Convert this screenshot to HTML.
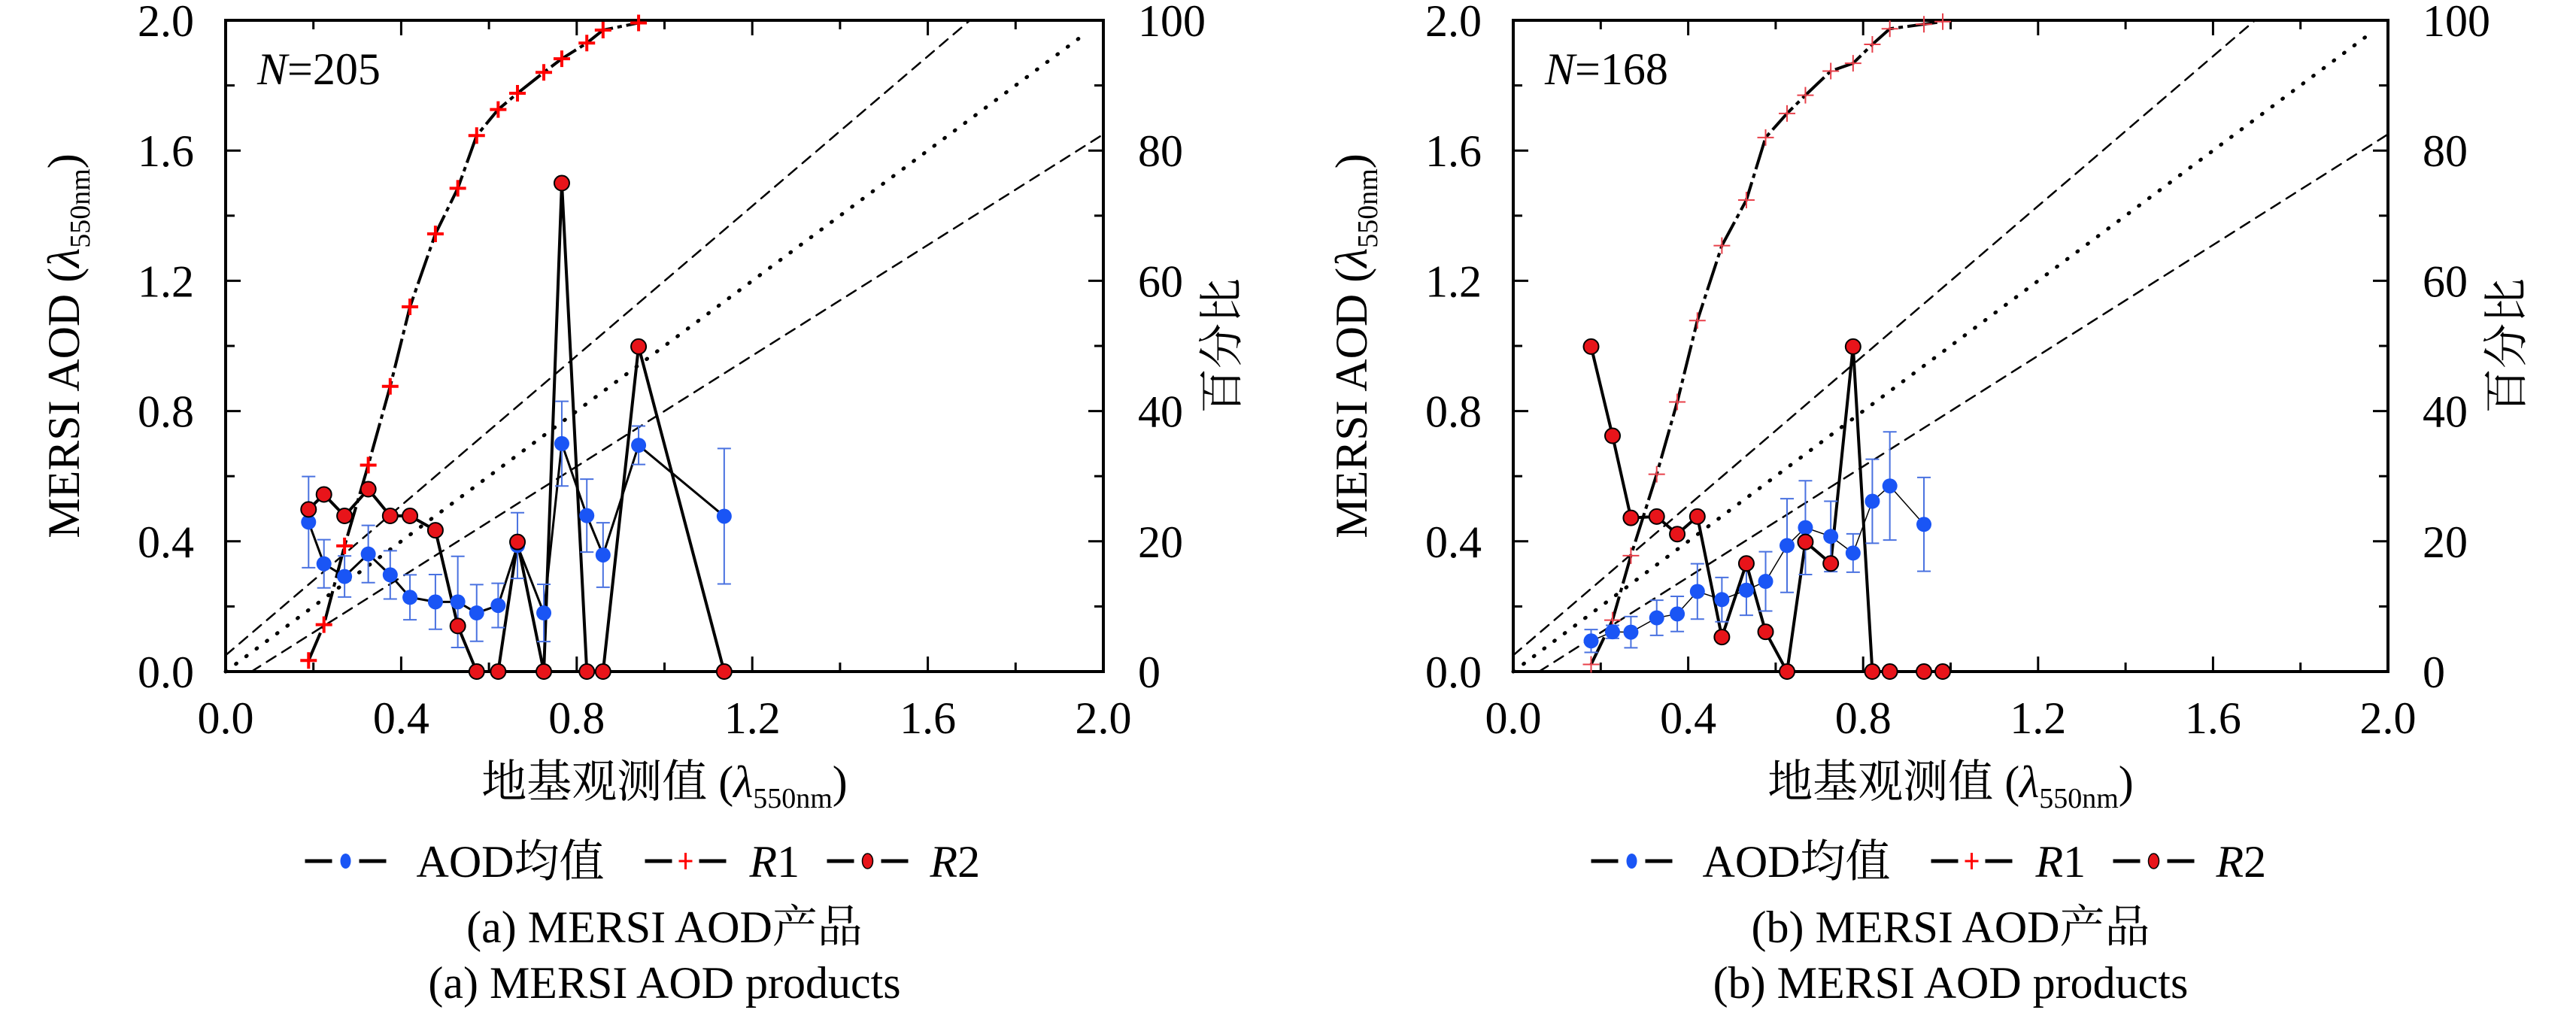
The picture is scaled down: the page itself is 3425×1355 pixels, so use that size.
<!DOCTYPE html>
<html><head><meta charset="utf-8"><style>
body{margin:0;background:#fff}
svg, svg text{font-family:"Liberation Serif","Times New Roman","Tinos","DejaVu Serif","Noto Serif CJK SC",serif}
</style></head><body>
<svg id="svg" width="3425" height="1350" xmlns="http://www.w3.org/2000/svg"></svg>
<script>
const xTicks=["0.0","0.4","0.8","1.2","1.6","2.0"];
const yTicks=["0.0","0.4","0.8","1.2","1.6","2.0"];
const pTicks=["0","20","40","60","80","100"];
// panel a
const aX=[0.189,0.224,0.271,0.325,0.375,0.420,0.478,0.529,0.572,0.621,0.665,0.725,0.766,0.823,0.860,0.941,1.136];
const aAOD=[0.459,0.331,0.292,0.361,0.297,0.228,0.214,0.214,0.180,0.203,0.387,0.180,0.700,0.479,0.358,0.695,0.477];
const aErr=[0.140,0.074,0.063,0.088,0.074,0.069,0.084,0.140,0.087,0.068,0.101,0.088,0.130,0.112,0.099,0.059,0.208];
const aR1=[1.7,7.2,19.3,31.7,43.8,56.0,67.2,74.2,82.3,86.3,88.8,92.0,94.1,96.5,98.5,99.6];
const aR2=[24.9,27.2,23.9,28.0,23.9,23.9,21.7,7.0,0,0,19.9,0,75.0,0,0,49.9,0];
// panel b
const bX=[0.178,0.227,0.269,0.328,0.375,0.421,0.477,0.533,0.577,0.626,0.668,0.726,0.777,0.821,0.861,0.939,0.982];
const bAOD=[0.094,0.122,0.121,0.165,0.177,0.246,0.221,0.250,0.277,0.387,0.442,0.415,0.364,0.523,0.570,0.452];
const bErr=[0.035,0.020,0.048,0.054,0.054,0.085,0.068,0.077,0.091,0.144,0.144,0.108,0.059,0.129,0.166,0.144];
const bR1=[1.1,7.9,17.8,30.3,41.4,53.9,65.4,72.4,82.0,85.7,88.5,92.2,93.4,96.3,98.7,99.4,99.8];
const bR2=[49.9,36.2,23.6,23.8,21.1,23.8,5.3,16.6,6.1,0,19.9,16.6,49.9,0,0,0,0];

const NS="http://www.w3.org/2000/svg";
const svg=document.getElementById('svg');
function mk(tag,attrs,parent,txt){const e=document.createElementNS(NS,tag);for(const k in attrs)e.setAttribute(k,attrs[k]);if(txt!==undefined)e.textContent=txt;(parent||svg).appendChild(e);return e;}

function panel(P){
  const g=mk('g',{});
  
  
  const L=P.L,R=P.R,T=27,B=893;
  const sx=v=>L+(R-L)*v/2, sy=v=>B-(B-T)*v/2, sp=v=>B-(B-T)*v/100;
  const lines=[[0,0,1.965,1.965,'1 16','ref-1to1-line',5],[0,0.05,1.696,2,'14 10','ref-upper-line',2.5],[0.0588,0,2,1.65,'14 10','ref-lower-line',2.5]];
  lines.forEach(l=>{const e=mk('line',{x1:sx(l[0]),y1:sy(l[1]),x2:sx(l[2]),y2:sy(l[3]),stroke:'#000','stroke-width':l[6],'stroke-dasharray':l[4],'stroke-linecap':'round'},g);
    });
  const fr=mk('rect',{x:L,y:T,width:R-L,height:B-T,fill:'none',stroke:'#000','stroke-width':4},g);
  
  for(let i=0;i<=10;i++){const len=i%2?12:20;const v=i*0.2;
    mk('line',{x1:sx(v),y1:B,x2:sx(v),y2:B-len,stroke:'#000','stroke-width':3},g);
    mk('line',{x1:sx(v),y1:T,x2:sx(v),y2:T+len,stroke:'#000','stroke-width':3},g);
    mk('line',{x1:L,y1:sy(v),x2:L+len,y2:sy(v),stroke:'#000','stroke-width':3},g);
    mk('line',{x1:R,y1:sy(v),x2:R-len,y2:sy(v),stroke:'#000','stroke-width':3},g);}
  xTicks.forEach((t,i)=>{const e=mk('text',{x:sx(i*0.4),y:975,'font-size':60,'text-anchor':'middle'},g,t);});
  yTicks.forEach((t,i)=>{const e=mk('text',{x:L-42,y:sy(i*0.4)+21,'font-size':60,'text-anchor':'end'},g,t);});
  pTicks.forEach((t,i)=>{const e=mk('text',{x:R+46,y:sp(i*20)+21,'font-size':60,'text-anchor':'start'},g,t);});
  const cx=(L+R)/2;
  let e=mk('text',{x:cx,y:1060,'font-size':60,'text-anchor':'middle'},g);
  
  e.innerHTML='地基观测值 (<tspan font-style="italic">λ</tspan><tspan font-size="38" dy="14">550nm</tspan><tspan dy="-14">)</tspan>';
  e=mk('text',{x:0,y:0,'font-size':60,'text-anchor':'middle',transform:`translate(${L-195},${(T+B)/2}) rotate(-90)`},g);
  
  e.innerHTML='MERSI AOD (<tspan font-style="italic">λ</tspan><tspan font-size="38" dy="14">550nm</tspan><tspan dy="-14">)</tspan>';
  e=mk('text',{x:0,y:0,'font-size':60,'text-anchor':'middle',transform:`translate(${R+178},${(T+B)/2}) rotate(-90)`},g,'百分比');
  
  e=mk('text',{x:L+42,y:112,'font-size':60},g);
  
  e.innerHTML='<tspan font-style="italic">N</tspan>='+P.n;
  const pts=(xs,ys,f)=>ys.map((v,i)=>sx(xs[i])+','+f(v)).join(' ');
  e=mk('polyline',{points:pts(P.x,P.aod,sy),fill:'none',stroke:'#000','stroke-width':P.thin?1.5:3},g);
  
  e=mk('polyline',{points:pts(P.x,P.r1,sp),fill:'none',stroke:'#000','stroke-width':4,'stroke-dasharray':'40 6 6 6'},g);
  
  e=mk('polyline',{points:pts(P.x,P.r2,sp),fill:'none',stroke:'#000','stroke-width':4},g);
  
  P.aod.forEach((v,i)=>{const x=sx(P.x[i]);const y1=sy(v+P.err[i]),y2=sy(v-P.err[i]);
    const eb=mk('path',{d:`M${x},${y1}V${y2}M${x-9},${y1}H${x+9}M${x-9},${y2}H${x+9}`,stroke:'#4a72e0','stroke-width':2,fill:'none'},g);
    });
  P.r1.forEach((v,i)=>{const x=sx(P.x[i]),y=sp(v);
    const c=mk('path',{d:`M${x-11},${y}H${x+11}M${x},${y-11}V${y+11}`,stroke:P.thin?'#e8404a':'#f00','stroke-width':P.thin?2:4},g);
    });
  P.aod.forEach((v,i)=>{const c=mk('ellipse',{cx:sx(P.x[i]),cy:sy(v),rx:10,ry:10,fill:'#1a55f5'},g);
    });
  P.r2.forEach((v,i)=>{const c=mk('ellipse',{cx:sx(P.x[i]),cy:sp(v),rx:10,ry:10,fill:'#e8141a',stroke:'#000','stroke-width':2},g);
    });
  const ly=1145, o=cx-883;
  const lg=mk('g',{},g);
  const seg=(x)=>{mk('line',{x1:x-54,y1:ly,x2:x-18,y2:ly,stroke:'#000','stroke-width':5},lg);mk('line',{x1:x+18,y1:ly,x2:x+54,y2:ly,stroke:'#000','stroke-width':5},lg);};
  seg(459+o);mk('ellipse',{cx:459+o,cy:ly,rx:7,ry:10,fill:'#1a55f5'},lg);
  e=mk('text',{x:553+o,y:ly+21,'font-size':60},lg,'AOD均值');
  seg(911+o);mk('path',{d:`M${911+o-9},${ly}H${911+o+9}M${911+o},${ly-11}V${ly+11}`,stroke:'#f00','stroke-width':3},lg);
  e=mk('text',{x:996+o,y:ly+21,'font-size':60},lg);e.innerHTML='<tspan font-style="italic">R</tspan>1';
  seg(1153+o);mk('ellipse',{cx:1153+o,cy:ly,rx:7,ry:10,fill:'#e8141a',stroke:'#000','stroke-width':1.5},lg);
  e=mk('text',{x:1236+o,y:ly+21,'font-size':60},lg);e.innerHTML='<tspan font-style="italic">R</tspan>2';
  e=mk('text',{x:cx,y:1253,'font-size':60,'text-anchor':'middle'},g,P.cap1);
  e=mk('text',{x:cx,y:1327,'font-size':60,'text-anchor':'middle'},g,P.cap2);
}
panel({id:'panel-a',L:300,R:1467,n:205,x:aX,aod:aAOD,err:aErr,r1:aR1,r2:aR2,cap1:'(a) MERSI AOD产品',cap2:'(a) MERSI AOD products'});
panel({id:'panel-b',L:2012,R:3175,n:168,x:bX,aod:bAOD,err:bErr,r1:bR1,r2:bR2,thin:true,cap1:'(b) MERSI AOD产品',cap2:'(b) MERSI AOD products'});
</script>
</body></html>
